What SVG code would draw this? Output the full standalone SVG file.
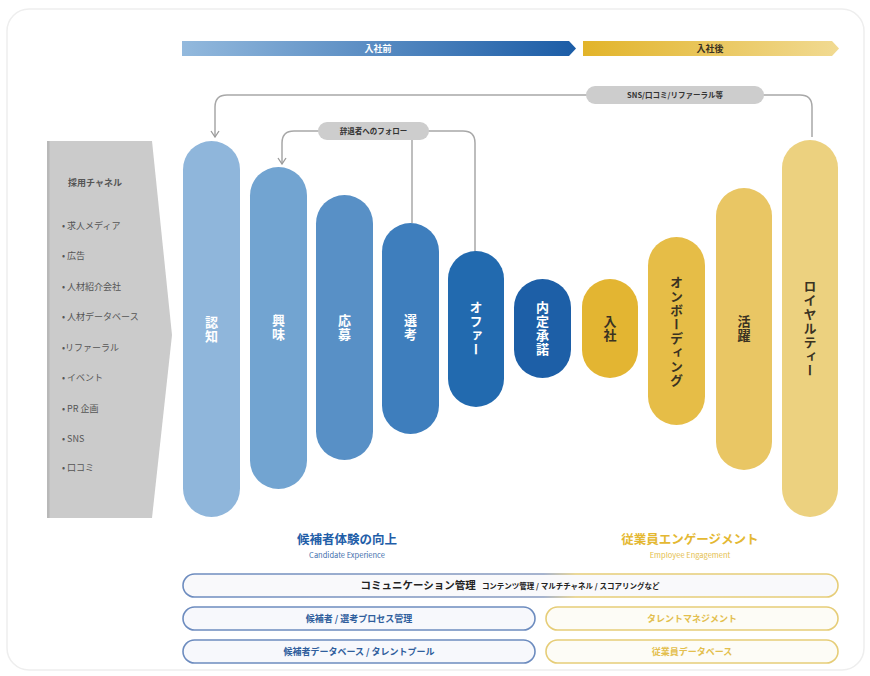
<svg xmlns="http://www.w3.org/2000/svg" width="870" height="676" viewBox="0 0 870 676">
<defs>
<linearGradient id="gBlue" x1="0" y1="0" x2="1" y2="0"><stop offset="0" stop-color="#93b9dd"/><stop offset="1" stop-color="#1b5ca6"/></linearGradient>
<linearGradient id="gGold" x1="0" y1="0" x2="1" y2="0"><stop offset="0" stop-color="#e2b42a"/><stop offset="1" stop-color="#f1da92"/></linearGradient>
<linearGradient id="gBorder" x1="0" y1="0" x2="1" y2="0"><stop offset="0" stop-color="#6d8cbf"/><stop offset="0.55" stop-color="#8a9cc0"/><stop offset="0.6" stop-color="#e6cd78"/><stop offset="1" stop-color="#e6cd78"/></linearGradient>
<marker id="arr" viewBox="0 0 10 10" refX="9" refY="5" markerWidth="10" markerHeight="10" markerUnits="userSpaceOnUse" orient="auto"><path d="M3,1 L9,5 L3,9" fill="none" stroke="#9a9a9a" stroke-width="1.3"/></marker>
<style>
text{font-family:"Noto Sans CJK JP","Noto Sans",sans-serif;}
.ch{font-size:9px;fill:#555;}
.vt{writing-mode:vertical-rl;font-size:13px;font-weight:bold;text-anchor:middle;letter-spacing:1px;}
.w{fill:#fff;}
.d{fill:#3a3222;}
.con{fill:none;stroke:#a8a8a8;stroke-width:1.5;}
.lbl{fill:#cdcdcd;}
.lt{font-size:7.5px;font-weight:bold;fill:#333;text-anchor:middle;}
.bp{fill:#f7f8fc;stroke:#6d8cbf;stroke-width:1.6;}
.gp{fill:#fdfcf6;stroke:#e6cd78;stroke-width:1.6;}
.bt{font-size:9px;font-weight:bold;fill:#2f5e9c;text-anchor:middle;}
.gt{font-size:9px;font-weight:bold;fill:#e3bf4e;text-anchor:middle;}
</style>
</defs>
<rect x="0" y="0" width="870" height="676" fill="#ffffff"/>
<rect x="7" y="9" width="857" height="661" rx="22" fill="#ffffff" stroke="#eeeeee" stroke-width="1.5"/>

<g id="phase-bars">
<polygon points="182,41 569,41 576,48.5 569,56 182,56" fill="url(#gBlue)"/>
<text x="378" y="52" font-size="9" font-weight="bold" fill="#fff" text-anchor="middle">入社前</text>
<polygon points="583,41 832,41 839,48.5 832,56 583,56" fill="url(#gGold)"/>
<text x="710" y="52" font-size="9" font-weight="bold" fill="#3a3222" text-anchor="middle">入社後</text>
</g>

<g id="channels">
<polygon points="47,141 152,141 172,335 152,518 47,518" fill="#cbcbcb"/>
<rect x="47" y="141" width="2.5" height="377" fill="#b8b8b8"/>
<text x="68" y="186" font-size="9" font-weight="bold" fill="#555">採用チャネル</text>
<text class="ch" x="62" y="229">• 求人メディア</text>
<text class="ch" x="62" y="259">• 広告</text>
<text class="ch" x="62" y="290">• 人材紹介会社</text>
<text class="ch" x="62" y="320">• 人材データベース</text>
<text class="ch" x="62" y="351">•リファーラル</text>
<text class="ch" x="62" y="381">• イベント</text>
<text class="ch" x="62" y="412">• PR 企画</text>
<text class="ch" x="62" y="442">• SNS</text>
<text class="ch" x="62" y="471">• 口コミ</text>
</g>

<g id="connectors">
<path class="con" d="M812,137 V107 Q812,95 800,95 H227 Q215,95 215,107 V137" marker-end="url(#arr)"/>
<rect class="lbl" x="586" y="86" width="178" height="18" rx="9"/>
<text class="lt" x="675" y="98">SNS/口コミ/リファーラル等</text>
<path class="con" d="M475,252 V143 Q475,131 463,131 H294 Q282,131 282,143 V164" marker-end="url(#arr)"/>
<path class="con" d="M412,131 V223"/>
<rect class="lbl" x="318" y="122" width="111" height="18" rx="9"/>
<text class="lt" x="373.5" y="134">辞退者へのフォロー</text>
</g>

<g id="n-ninchi"><rect x="183" y="141" width="57" height="376" rx="28.5" fill="#8fb6db"/><text class="vt w" x="211.5" y="330">認知</text></g>
<g id="n-kyomi"><rect x="250" y="167" width="57" height="322" rx="28.5" fill="#72a4d1"/><text class="vt w" x="278.5" y="328">興味</text></g>
<g id="n-oubo"><rect x="316" y="195" width="57" height="265" rx="28.5" fill="#5890c6"/><text class="vt w" x="344.5" y="328">応募</text></g>
<g id="n-senkou"><rect x="382" y="223" width="57" height="211" rx="28.5" fill="#3e7ebd"/><text class="vt w" x="410.5" y="328">選考</text></g>
<g id="n-offer"><rect x="448" y="251" width="56" height="156" rx="28" fill="#226aaf"/><text class="vt w" x="476" y="329">オファー</text></g>
<g id="n-naitei"><rect x="514" y="279" width="57" height="99" rx="28.5" fill="#1d5fa7"/><text class="vt w" x="542.5" y="329">内定承諾</text></g>
<g id="n-nyusha"><rect x="582" y="279" width="56" height="99" rx="28" fill="#e3b532"/><text class="vt d" x="610" y="329">入社</text></g>
<g id="n-onboarding"><rect x="648" y="237" width="57" height="188" rx="28.5" fill="#e6bd47"/><text class="vt d" x="676.5" y="332">オンボーディング</text></g>
<g id="n-katsuyaku"><rect x="716" y="188" width="56" height="282" rx="28" fill="#e9c664"/><text class="vt d" x="744" y="329">活躍</text></g>
<g id="n-loyalty"><rect x="782" y="140" width="56" height="377" rx="28" fill="#ecd17f"/><text class="vt d" x="810" y="329">ロイヤルティー</text></g>

<g id="captions">
<text x="347" y="544" font-size="12.5" font-weight="bold" fill="#1f5ea8" text-anchor="middle">候補者体験の向上</text>
<text x="347" y="558" font-size="7.5" fill="#3f6fae" text-anchor="middle" font-family="Liberation Sans, sans-serif">Candidate Experience</text>
<text x="690" y="544" font-size="12.5" font-weight="bold" fill="#e4b832" text-anchor="middle">従業員エンゲージメント</text>
<text x="690" y="558" font-size="7.5" fill="#e4be4a" text-anchor="middle" font-family="Liberation Sans, sans-serif">Employee Engagement</text>
</g>

<g id="bottom-rows">
<rect x="183" y="574" width="655" height="23" rx="11.5" fill="#f9f9fb" stroke="url(#gBorder)" stroke-width="1.6"/>
<text x="510" y="589" text-anchor="middle" fill="#222"><tspan font-size="10.5" font-weight="bold">コミュニケーション管理</tspan><tspan font-size="7.5" font-weight="bold" dx="6">コンテンツ管理 / マルチチャネル / スコアリングなど</tspan></text>
<rect class="bp" x="183" y="607" width="352" height="23" rx="11.5"/>
<text class="bt" x="359" y="622">候補者 / 選考プロセス管理</text>
<rect class="gp" x="546" y="607" width="292" height="23" rx="11.5"/>
<text class="gt" x="692" y="622">タレントマネジメント</text>
<rect class="bp" x="183" y="640" width="352" height="23" rx="11.5"/>
<text class="bt" x="359" y="655">候補者データベース / タレントプール</text>
<rect class="gp" x="546" y="640" width="292" height="23" rx="11.5"/>
<text class="gt" x="692" y="655">従業員データベース</text>
</g>
</svg>
